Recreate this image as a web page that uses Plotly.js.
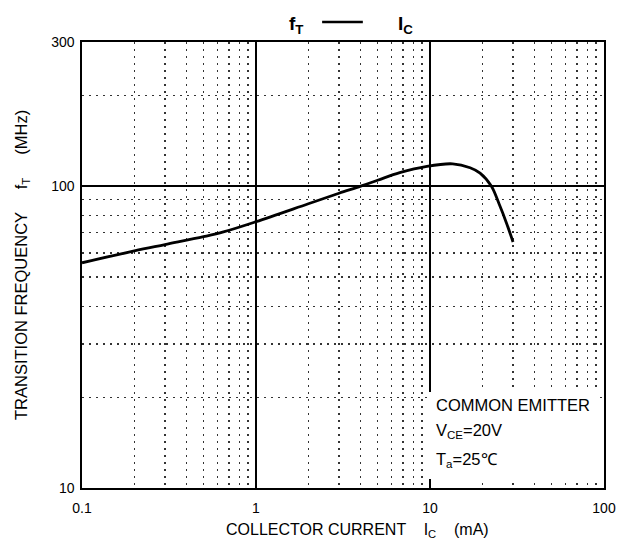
<!DOCTYPE html>
<html>
<head>
<meta charset="utf-8">
<script src="https://cdn.plot.ly/plotly-3.0.1.min.js"></script>
<style>html,body{margin:0;padding:0;background:#fff;}#chart{width:628px;height:542px;}</style>
</head>
<body>
<div id="chart"></div>
<script>
// Collector current (mA) and transition frequency (MHz)
var collectorCurrent = [0.1, 0.2, 0.3, 0.5, 0.65, 1, 2, 3, 4, 5, 6.7, 9.6, 13.5, 17, 19.4, 22.5, 25, 27.5, 30];
var transitionFreq   = [55.7, 61.0, 64.0, 68.0, 70.5, 76.2, 87.4, 94.7, 99.9, 104.5, 110.8, 116.3, 118.5, 115.0, 110.4, 100.0, 87.0, 75.5, 65.3];

var xMajorTicks = [0.1, 1, 10, 100];
var xMajorLabels = ["0.1", "1", "10", "100"];
var xMinorTicks = [0.2,0.3,0.4,0.5,0.6,0.7,0.8,0.9, 2,3,4,5,6,7,8,9, 20,30,40,50,60,70,80,90];
var yMajorTicks = [10, 100, 300];
var yMajorLabels = ["10", "100", "300"];
var yMinorTicks = [20,30,40,50,60,70,80,90,200];

var FONT = "Liberation Sans, Arial, sans-serif";
var dotDash = "1.5px,5.5px";

var trace = {
  x: collectorCurrent,
  y: transitionFreq,
  type: "scatter",
  mode: "lines",
  line: {color: "#000", width: 2.8, shape: "spline", smoothing: 1},
  hoverinfo: "skip"
};

var layout = {
  width: 628, height: 542,
  margin: {l: 82, r: 24, t: 42, b: 54},
  paper_bgcolor: "#fff", plot_bgcolor: "#fff",
  showlegend: false,
  font: {family: FONT, color: "#000"},
  xaxis: {
    type: "log", range: [-1, 2],
    tickmode: "array", tickvals: xMajorTicks, ticktext: xMajorLabels,
    ticks: "", tickfont: {size: 14, color: "#000"}, ticklabelstandoff: 7,
    showgrid: true, gridcolor: "#000", gridwidth: 1.4,
    showline: true, mirror: true, linecolor: "#000", linewidth: 1.6,
    zeroline: false, fixedrange: true,
    minor: {tickmode: "array", tickvals: xMinorTicks, showgrid: true, gridcolor: "#333", gridwidth: 1.2, griddash: dotDash, ticks: ""}
  },
  yaxis: {
    type: "log", range: [1, Math.log10(300)],
    tickmode: "array", tickvals: yMajorTicks, ticktext: yMajorLabels,
    ticks: "", tickfont: {size: 14, color: "#000"}, ticklabelstandoff: 3,
    showgrid: true, gridcolor: "#000", gridwidth: 1.4,
    showline: true, mirror: true, linecolor: "#000", linewidth: 1.6,
    zeroline: false, fixedrange: true,
    minor: {tickmode: "array", tickvals: yMinorTicks, showgrid: true, gridcolor: "#333", gridwidth: 1.2, griddash: dotDash, ticks: ""}
  },
  shapes: [
    {type: "rect", xref: "paper", yref: "paper", x0: 0.664, x1: 0.99, y0: 0.02, y1: 0.215,
     fillcolor: "#fff", line: {width: 0}, layer: "above"},
    {type: "line", xref: "paper", yref: "paper", x0: 0.46, x1: 0.538, y0: 1.045, y1: 1.045,
     line: {color: "#000", width: 2.6}}
  ],
  annotations: [
    {xref: "paper", yref: "paper", x: 0.41, y: 1.0, yshift: 17, xanchor: "center", yanchor: "middle", showarrow: false,
     text: "<b>f<sub>T</sub></b>", font: {size: 19}},
    {xref: "paper", yref: "paper", x: 0.619, y: 1.0, yshift: 17, xanchor: "center", yanchor: "middle", showarrow: false,
     text: "<b>I<sub>C</sub></b>", font: {size: 19}},
    {xref: "paper", yref: "paper", x: 0.527, y: 0, yshift: -42, xanchor: "center", yanchor: "middle", showarrow: false,
     text: "COLLECTOR CURRENT    I<sub>C</sub>    (mA)", font: {size: 16}},
    {xref: "paper", yref: "paper", x: 0, xshift: -60, y: 0.5, xanchor: "center", yanchor: "middle", showarrow: false,
     textangle: -90, text: "TRANSITION FREQUENCY     f<sub>T</sub>     (MHz)", font: {size: 16.5}},
    {xref: "paper", yref: "paper", x: 0.675, y: 0.185, xanchor: "left", yanchor: "middle", showarrow: false,
     text: "COMMON EMITTER", font: {size: 16.5}},
    {xref: "paper", yref: "paper", x: 0.675, y: 0.128, xanchor: "left", yanchor: "middle", showarrow: false,
     text: "V<sub>CE</sub>=20V", font: {size: 16.5}},
    {xref: "paper", yref: "paper", x: 0.675, y: 0.063, xanchor: "left", yanchor: "middle", showarrow: false,
     text: "T<sub>a</sub>=25℃", font: {size: 16.5}}
  ]
};

Plotly.newPlot("chart", [trace], layout, {displayModeBar: false, staticPlot: true});
</script>
</body>
</html>
